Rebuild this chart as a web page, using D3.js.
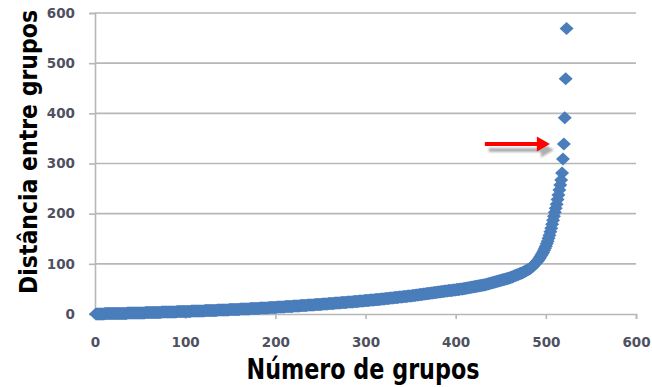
<!DOCTYPE html>
<html>
<head>
<meta charset="utf-8">
<script src="https://cdn.jsdelivr.net/npm/d3@7"></script>
<style>
  html, body { margin: 0; padding: 0; background: #ffffff; }
  svg { display: block; }
</style>
</head>
<body>
<svg id="chart" width="652" height="387"></svg>
<script>
// Tick values for both axes
const xTicks = [0, 100, 200, 300, 400, 500, 600];
const yTicks = [0, 100, 200, 300, 400, 500, 600];

// Distância entre grupos, ordered by número de grupos (1 .. n)
const distancias = [
  0,0,0,0,0, 0,0,0,0,0,
  1,1,1,1,1, 1,1,1,1,1, 1,1,1,1,1, 1,1,1,1,1, 1,1,1,1,1,
  2,2,2,2,2, 2,2,2,2,2, 2,2,2,2,2, 2,2,2,2,2,
  3,3,3,3,3, 3,3,3,3,3, 3,3,3,3,3, 3,3,3,
  4,4,4,4,4, 4,4,4,4,4, 4,4,4,4,4, 4,4,
  5,5,5,5,5, 5,5,5,5,5, 5,5,5,5,5, 5,
  6,6,6,6,6, 6,6,6,6,6, 6,6,6,6,6,
  7,7,7,7,7, 7,7,7,7,7, 7,7,7,7,
  8,8,8,8,8, 8,8,8,8,8, 8,8,8,
  9,9,9,9,9, 9,9,9,9,9, 9,9,
  10,10,10,10,10, 10,10,10,10,10, 10,
  11,11,11,11,11, 11,11,11,11,11, 11,
  12,12,12,12,12, 12,12,12,12,12,
  13,13,13,13,13, 13,13,13,13,
  14,14,14,14,14, 14,14,14,14,
  15,15,15,15,15, 15,15,15,15,
  16,16,16,16,16, 16,16,16,
  17,17,17,17,17, 17,17,17,
  18,18,18,18,18, 18,18,18,
  19,19,19,19,19, 19,19,19,
  20,20,20,20,20, 20,20,
  21,21,21,21,21, 21,21,
  22,22,22,22,22, 22,22,
  23,23,23,23,23, 23,23,
  24,24,24,24,24, 24,24,
  25,25,25,25,25, 25,
  26,26,26,26,26, 26,
  27,27,27,27,27, 27,
  28,28,28,28,28, 28,
  29,29,29,29,29, 29,
  30,30,30,30,30,
  31,31,31,31,31,
  32,32,32,32,32,
  33,33,33,33,33,
  34,34,34,34,34,
  35,35,35,35,35,
  36,36,36,36,36,
  37,37,37,37,
  38,38,38,38,
  39,39,39,39,
  40,40,40,40,
  41,41,41,41,
  42,42,42,42,
  43,43,43,43,
  44,44,44,44,
  45,45,45,45,
  46,46,46,46,
  47,47,47,47,47,
  48,48,48,48,
  49,49,49,49,
  50,50,50,50,
  51,51,51, 52,52,52, 53,53,53, 54,54,54,
  55,55,55, 56,56,56, 57,57,57, 58,58,58,
  59,59, 60,60, 61,61, 62,62, 63,63,
  64,64, 65,65, 66,66, 67,67,
  68,68,69,69,70,70,71,71,72,72,
  73,74,74,75,76,76,77,78,78,79,
  80,81,81,82,83,84,85,86,87,88,
  89,90,91,93,94,96,98,100,102,104,
  106,108,111,114,117,120,123,127,131,135,
  140,145,151,157,164,171,179,187,195,203,
  211,219,228,237,247,257,267,281,309,339,
  391,469,569
];

// Group whose distance is marked with the red arrow
const grupoDestacado = 520;

const xLabel = "Número de grupos";
const yLabel = "Distância entre grupos";

const svg = d3.select("#chart");

const x = d3.scaleLinear().domain([0, 600]).range([95, 636]);
const y = d3.scaleLinear().domain([0, 600]).range([314, 13]);

const gridColor = "#b7b7b7";
const tickFont = "'DejaVu Sans', Verdana, sans-serif";
const tickColor = "#4f5060";

// Horizontal gridlines
svg.append("g")
  .selectAll("line")
  .data(yTicks.filter(d => d > 0))
  .join("line")
  .attr("x1", x(0)).attr("x2", x(600))
  .attr("y1", d => y(d)).attr("y2", d => y(d))
  .attr("stroke", gridColor)
  .attr("stroke-width", 1.6);

// Y axis
const yAxis = svg.append("g")
  .attr("transform", `translate(${x(0)},0)`)
  .call(d3.axisLeft(y).tickValues(yTicks).tickSize(6).tickPadding(14).tickFormat(d3.format("d")));

// X axis
const xAxis = svg.append("g")
  .attr("transform", `translate(0,${y(0)})`)
  .call(d3.axisBottom(x).tickValues(xTicks).tickSize(5).tickPadding(18).tickFormat(d3.format("d")));

[yAxis, xAxis].forEach(g => {
  g.select(".domain").attr("stroke", gridColor).attr("stroke-width", 1.6);
  g.selectAll(".tick line").attr("stroke", gridColor).attr("stroke-width", 1.6);
  g.selectAll(".tick text")
    .attr("fill", tickColor)
    .style("font-family", tickFont)
    .style("font-weight", "bold")
    .style("font-size", "13.5px");
});

// Diamond markers
const diamond = "M0,-6.5L7,0L0,6.5L-7,0Z";
svg.append("g")
  .selectAll("path")
  .data(distancias)
  .join("path")
  .attr("d", diamond)
  .attr("transform", (d, i) => `translate(${x(i + 1)},${y(d)})`)
  .attr("fill", "#4a7ebb");

// Arrow pointing at the highlighted group
const defs = svg.append("defs");
defs.append("filter").attr("id", "sombra")
  .attr("x", "-20%").attr("y", "-50%").attr("width", "140%").attr("height", "200%")
  .append("feGaussianBlur").attr("stdDeviation", 1.3);

const alvoX = x(grupoDestacado) - 14;
const alvoY = y(distancias[grupoDestacado - 1]);
const arrowPath = (dx, dy) => {
  const tx = alvoX + dx, ty = alvoY + dy;
  return `M${tx - 65},${ty - 2}L${tx - 13},${ty - 2}L${tx - 13},${ty - 7.5}` +
         `L${tx},${ty}L${tx - 13},${ty + 7.5}L${tx - 13},${ty + 2}L${tx - 65},${ty + 2}Z`;
};
svg.append("path")
  .attr("d", arrowPath(4, 6))
  .attr("fill", "#9a9a9a")
  .attr("opacity", 0.8)
  .attr("filter", "url(#sombra)");
svg.append("path")
  .attr("d", arrowPath(0, 0))
  .attr("fill", "#ff0000");

// Axis titles
const titleFont = "'Liberation Sans Narrow', 'DejaVu Sans Condensed', 'Arial Narrow', sans-serif";
svg.append("text")
  .attr("x", 363).attr("y", 379)
  .attr("text-anchor", "middle")
  .attr("textLength", 233).attr("lengthAdjust", "spacingAndGlyphs")
  .style("font-family", titleFont)
  .style("font-stretch", "condensed")
  .style("font-weight", "bold")
  .style("font-size", "29px")
  .attr("fill", "#000")
  .text(xLabel);

svg.append("text")
  .attr("transform", "translate(37,152) rotate(-90)")
  .attr("text-anchor", "middle")
  .attr("textLength", 284).attr("lengthAdjust", "spacingAndGlyphs")
  .style("font-family", titleFont)
  .style("font-stretch", "condensed")
  .style("font-weight", "bold")
  .style("font-size", "25px")
  .attr("fill", "#000")
  .text(yLabel);
</script>
</body>
</html>
